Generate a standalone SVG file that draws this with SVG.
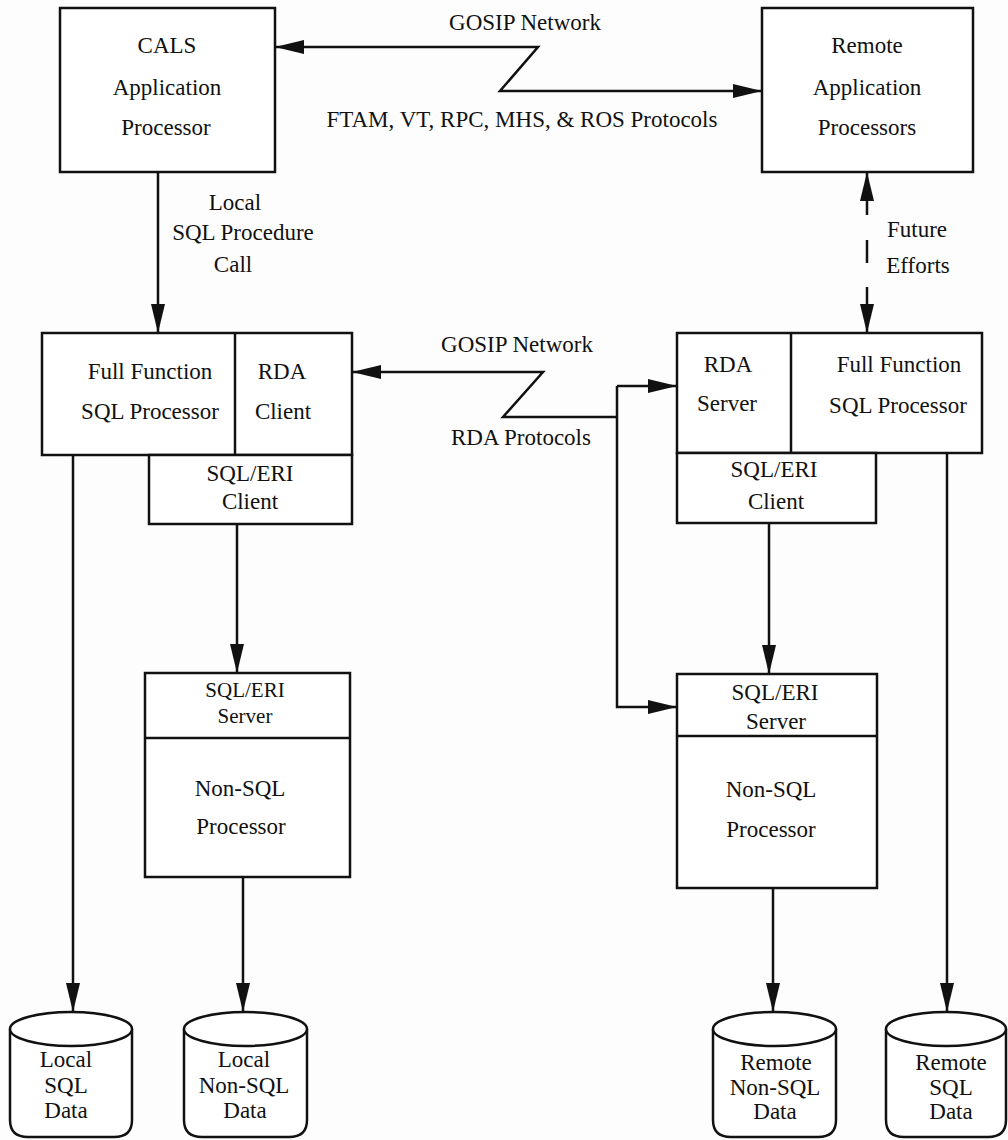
<svg xmlns="http://www.w3.org/2000/svg" width="1008" height="1140" viewBox="0 0 1008 1140">
<style>
.box{fill:#fff;stroke:#111;stroke-width:2.5}
.ln{fill:none;stroke:#111;stroke-width:2.5;stroke-linejoin:miter}
text{font-family:"Liberation Serif","Times New Roman",serif;font-size:23px;fill:#111;text-anchor:middle}
.sm{font-size:21px}
</style>
<defs>
<marker id="ah" viewBox="0 0 29 14" refX="28" refY="7" markerWidth="29" markerHeight="14" markerUnits="userSpaceOnUse" orient="auto-start-reverse">
<path d="M0,0 L29,7 L0,14 z" fill="#111"/>
</marker>
</defs>
<rect width="1008" height="1140" fill="#fdfdfd"/>

<g id="connectors">
<path class="ln" d="M276,47 L538,47 L500,91 L761,91" marker-start="url(#ah)" marker-end="url(#ah)"/>
<path class="ln" d="M158,173 L158,332" marker-end="url(#ah)"/>
<path class="ln" d="M867,173 L867,332" stroke-dasharray="42 25 23 24 50" marker-start="url(#ah)" marker-end="url(#ah)"/>
<path class="ln" d="M353,372 L543,372 L503,417 L617,417" marker-start="url(#ah)"/>
<path class="ln" d="M617,386 L617,707 L676,707" marker-end="url(#ah)"/>
<path class="ln" d="M617,386 L676,386" marker-end="url(#ah)"/>
<path class="ln" d="M73,456 L73,1011" marker-end="url(#ah)"/>
<path class="ln" d="M237,525 L237,672" marker-end="url(#ah)"/>
<path class="ln" d="M243,878 L243,1011" marker-end="url(#ah)"/>
<path class="ln" d="M769,524 L769,673" marker-end="url(#ah)"/>
<path class="ln" d="M773,889 L773,1011" marker-end="url(#ah)"/>
<path class="ln" d="M947,454 L947,1011" marker-end="url(#ah)"/>
</g>

<g id="labels">
<text x="525" y="30">GOSIP Network</text>
<text x="522" y="127">FTAM, VT, RPC, MHS, &amp; ROS Protocols</text>
<text x="235" y="210">Local</text>
<text x="243" y="240">SQL Procedure</text>
<text x="233" y="272">Call</text>
<text x="917" y="237">Future</text>
<text x="918" y="273">Efforts</text>
<text x="517" y="352">GOSIP Network</text>
<text x="521" y="445">RDA Protocols</text>
</g>

<g id="cals">
<rect class="box" x="60" y="8" width="215" height="164"/>
<text x="167" y="53">CALS</text>
<text x="167" y="95">Application</text>
<text x="166" y="135">Processor</text>
</g>

<g id="remote-app">
<rect class="box" x="762" y="8" width="211" height="164"/>
<text x="867" y="53">Remote</text>
<text x="867" y="95">Application</text>
<text x="867" y="135">Processors</text>
</g>

<g id="local-sql-processor">
<rect class="box" x="42" y="333" width="310" height="122"/>
<line class="ln" x1="235" y1="333" x2="235" y2="455"/>
<text x="150" y="379">Full Function</text>
<text x="150" y="419">SQL Processor</text>
<text x="282" y="379">RDA</text>
<text x="283" y="419">Client</text>
</g>

<g id="local-eri-client">
<rect class="box" x="149" y="455" width="203" height="69"/>
<text x="250" y="481">SQL/ERI</text>
<text x="250" y="509">Client</text>
</g>

<g id="remote-sql-processor">
<rect class="box" x="677" y="333" width="305" height="120"/>
<line class="ln" x1="791" y1="333" x2="791" y2="453"/>
<text x="728" y="372">RDA</text>
<text x="727" y="411">Server</text>
<text x="899" y="372">Full Function</text>
<text x="898" y="413">SQL Processor</text>
</g>

<g id="remote-eri-client">
<rect class="box" x="677" y="453" width="199" height="70"/>
<text x="774" y="477">SQL/ERI</text>
<text x="776" y="509">Client</text>
</g>

<g id="local-nonsql-processor">
<rect class="box" x="145" y="673" width="205" height="204"/>
<line class="ln" x1="145" y1="738" x2="350" y2="738"/>
<text class="sm" x="245" y="697">SQL/ERI</text>
<text class="sm" x="245" y="723">Server</text>
<text x="240" y="796">Non-SQL</text>
<text x="241" y="834">Processor</text>
</g>

<g id="remote-nonsql-processor">
<rect class="box" x="677" y="674" width="200" height="214"/>
<line class="ln" x1="677" y1="736" x2="877" y2="736"/>
<text x="775" y="700">SQL/ERI</text>
<text x="776" y="729">Server</text>
<text x="771" y="797">Non-SQL</text>
<text x="771" y="837">Processor</text>
</g>

<g id="local-sql-data">
<path class="box" d="M10,1029 L10,1120 Q10,1137 28,1137 L114,1137 Q132,1137 132,1120 L132,1029"/>
<ellipse class="box" cx="71" cy="1029" rx="61" ry="17"/>
<text x="66" y="1067">Local</text>
<text x="66" y="1093">SQL</text>
<text x="66" y="1118">Data</text>
</g>

<g id="local-nonsql-data">
<path class="box" d="M184,1029 L184,1120 Q184,1137 202,1137 L289,1137 Q307,1137 307,1120 L307,1029"/>
<ellipse class="box" cx="245.5" cy="1029" rx="61.5" ry="17"/>
<text x="244" y="1067">Local</text>
<text x="244" y="1093">Non-SQL</text>
<text x="245" y="1118">Data</text>
</g>

<g id="remote-nonsql-data">
<path class="box" d="M713,1029 L713,1120 Q713,1137 731,1137 L818,1137 Q836,1137 836,1120 L836,1029"/>
<ellipse class="box" cx="774.5" cy="1029" rx="61.5" ry="17"/>
<text x="776" y="1070">Remote</text>
<text x="775" y="1095">Non-SQL</text>
<text x="775" y="1119">Data</text>
</g>

<g id="remote-sql-data">
<path class="box" d="M886,1029 L886,1120 Q886,1137 904,1137 L988,1137 Q1006,1137 1006,1120 L1006,1029"/>
<ellipse class="box" cx="946" cy="1029" rx="60" ry="17"/>
<text x="951" y="1070">Remote</text>
<text x="951" y="1095">SQL</text>
<text x="951" y="1119">Data</text>
</g>
</svg>
